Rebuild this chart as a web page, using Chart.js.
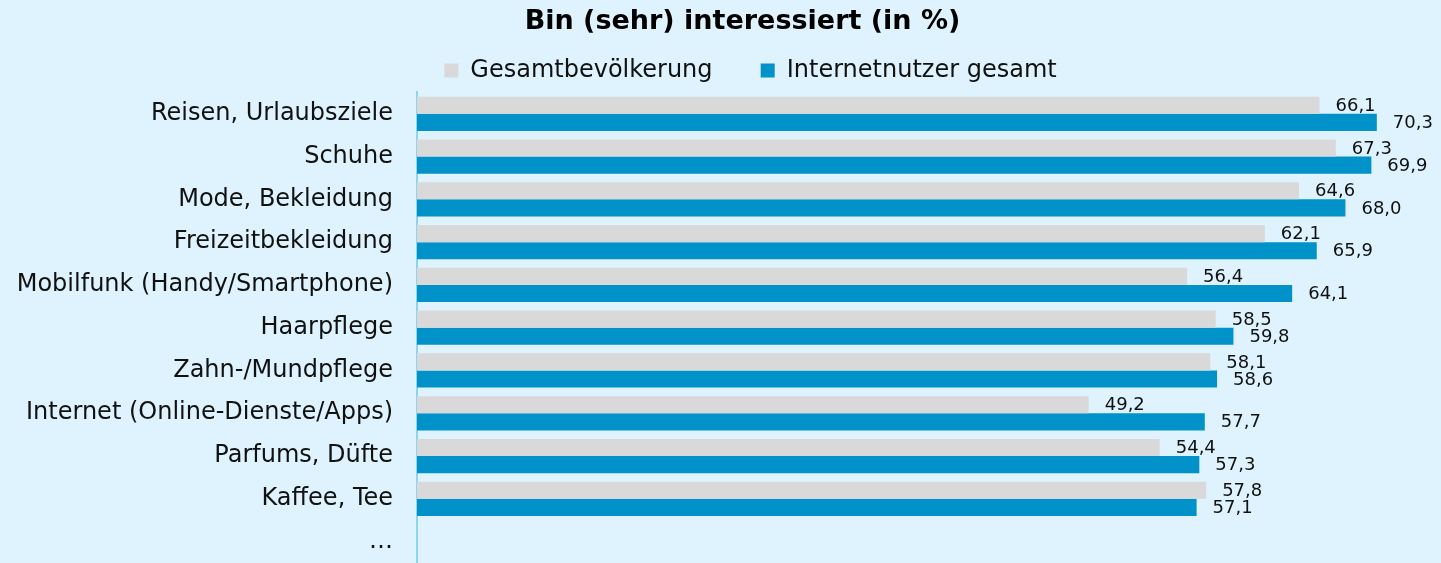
<!DOCTYPE html>
<html>
<head>
<meta charset="utf-8">
<script src="https://cdn.jsdelivr.net/npm/chart.js@4.4.1/dist/chart.umd.min.js"></script>
<style>
    html, body { margin: 0; padding: 0; background: #def3fd; overflow: hidden; }
    #wrap { width: 1441px; height: 563px; position: relative; }
</style>
</head>
<body>
<div id="wrap"><canvas id="chart"></canvas></div>
<script>
// Data
const categories = [
    'Reisen, Urlaubsziele',
    'Schuhe',
    'Mode, Bekleidung',
    'Freizeitbekleidung',
    'Mobilfunk (Handy/Smartphone)',
    'Haarpflege',
    'Zahn-/Mundpflege',
    'Internet (Online-Dienste/Apps)',
    'Parfums, Düfte',
    'Kaffee, Tee',
    '…'
];
const gesamtbevoelkerung = [66.1, 67.3, 64.6, 62.1, 56.4, 58.5, 58.1, 49.2, 54.4, 57.8, null];
const internetnutzer = [70.3, 69.9, 68.0, 65.9, 64.1, 59.8, 58.6, 57.7, 57.3, 57.1, null];
const xMax = 75;

// Value labels at the end of each bar, German decimal comma
const barLabels = {
    id: 'barLabels',
    afterDatasetsDraw(chart) {
        const ctx = chart.ctx;
        ctx.save();
        ctx.font = '18px "DejaVu Sans"';
        ctx.fillStyle = '#111';
        ctx.textAlign = 'left';
        ctx.textBaseline = 'middle';
        chart.data.datasets.forEach((ds, i) => {
            const meta = chart.getDatasetMeta(i);
            meta.data.forEach((bar, j) => {
                const v = ds.data[j];
                if (v === null || v === undefined) return;
                ctx.fillText(v.toFixed(1).replace('.', ','), bar.x + 16, bar.y + 1);
            });
        });
        ctx.restore();
    }
};

// Title and legend sit a bit right of the canvas centre
const shiftHeader = {
    id: 'shiftHeader',
    afterLayout(chart) {
        if (chart.titleBlock) chart.titleBlock.left += 44;
        if (chart.legend) chart.legend.left += 60;
    }
};

new Chart(document.getElementById('chart'), {
    type: 'bar',
    data: {
        labels: categories,
        datasets: [
            {
                label: 'Gesamtbevölkerung',
                data: gesamtbevoelkerung,
                backgroundColor: '#d9d9d9',
                categoryPercentage: 0.8,
                barPercentage: 1.0
            },
            {
                label: 'Internetnutzer gesamt',
                data: internetnutzer,
                backgroundColor: '#0092c8',
                categoryPercentage: 0.8,
                barPercentage: 1.0
            }
        ]
    },
    options: {
        indexAxis: 'y',
        responsive: true,
        maintainAspectRatio: false,
        animation: false,
        layout: {
            padding: { left: 0, right: 0, top: 6, bottom: -3 }
        },
        plugins: {
            title: {
                display: true,
                text: 'Bin (sehr) interessiert (in %)',
                color: '#000',
                font: { family: 'DejaVu Sans', size: 27, weight: 'bold' },
                padding: { top: 0, bottom: 10 }
            },
            legend: {
                position: 'top',
                labels: {
                    color: '#111',
                    font: { family: 'DejaVu Sans', size: 24 },
                    boxWidth: 14,
                    boxHeight: 14,
                    padding: 10,
                    generateLabels(chart) {
                        const items = Chart.defaults.plugins.legend.labels.generateLabels(chart);
                        items[0].text = items[0].text + '     ';
                        return items;
                    }
                }
            },
            tooltip: { enabled: false }
        },
        scales: {
            x: {
                display: false,
                min: 0,
                max: xMax
            },
            y: {
                afterFit(scale) {
                    scale.width = 417;
                    scale.paddingTop = 0;
                    scale.paddingBottom = 0;
                },
                grid: { display: false, drawTicks: false },
                border: { display: true, color: '#8dd4ee', width: 2 },
                ticks: {
                    color: '#111',
                    font: { family: 'DejaVu Sans', size: 24 },
                    padding: 24
                }
            }
        }
    },
    plugins: [barLabels, shiftHeader]
});
</script>
</body>
</html>
